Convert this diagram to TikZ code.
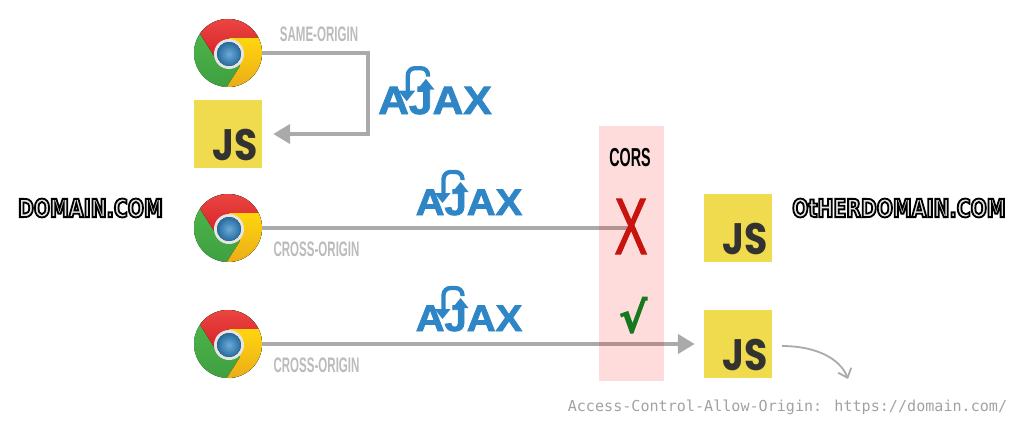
\documentclass[tikz,border=0pt]{standalone}
\usepackage{fontspec}
\usetikzlibrary{arrows.meta}
\newfontfamily\narrowfont[FakeStretch=0.55]{Liberation Sans}
\newfontfamily\thinxfont[FakeStretch=0.62]{Liberation Sans}
\newfontfamily\ajaxfont[FakeStretch=1.08]{Liberation Sans}
\newfontfamily\pixelfont[FakeStretch=0.76]{DejaVu Sans}
\newfontfamily\codefont{DejaVu Sans Mono}
\newfontfamily\jsfont[FakeStretch=0.86]{Poppins}
\newfontfamily\markfont{DejaVu Sans}
\definecolor{lineGrey}{HTML}{AAAAAA}
\definecolor{labelGrey}{HTML}{BBBBBB}
\definecolor{codeGrey}{HTML}{A2A2A2}
\definecolor{jsYellow}{HTML}{F0DB4F}
\definecolor{jsDark}{HTML}{323330}
\definecolor{ajaxBlue}{HTML}{2F86C6}
\definecolor{denyRed}{HTML}{C8140F}
\definecolor{allowGreen}{HTML}{16791F}
\definecolor{pixelFill}{HTML}{E4E4E4}
\definecolor{chromeRedTop}{HTML}{EE4B45}
\definecolor{chromeRed}{HTML}{D8232A}
\definecolor{chromeGreen}{HTML}{4FBA4B}
\definecolor{chromeGreenLow}{HTML}{3E9E40}
\definecolor{chromeYellow}{HTML}{FFD50E}
\definecolor{chromeYellowLow}{HTML}{E9A81A}
\newcommand{\outlinetext}[1]{\special{pdf:code 0 G 2 Tr 1.8 w}#1\special{pdf:code 0 Tr 1 w}}
\newcommand{\heavytext}[2]{\special{pdf:code 2 Tr #1 w}#2\special{pdf:code 0 Tr 1 w}}
\tikzset{
  chromelogo/.style={circle,minimum size=68pt,inner sep=0pt,
    path picture={
      \begin{scope}[shift={(path picture bounding box.center)}]
        \fill[top color=chromeGreen,bottom color=chromeGreenLow] (-40,-40) rectangle (40,40);
        \fill[top color=chromeRedTop,bottom color=chromeRed] (-13.7,3.3) -- (-36.7,-33.3) -- (-36.7,-40) -- (40,-40) -- (40,-15) -- (1,-15) -- cycle;
        \fill[top color=chromeYellow,bottom color=chromeYellowLow] (1,-15) -- (40,-15) -- (40,40) -- (-5,40) -- (12,13.3) -- cycle;
        \fill[white!90!black] (1,1) circle (15);
        \fill[inner color=ajaxBlue!70!white,outer color=ajaxBlue!80!black] (1,1) circle (12);
      \end{scope}}},
  jslogo/.style={rectangle,fill=jsYellow,text=jsDark,inner xsep=4.7pt,inner ysep=0pt,
    text width=58.6pt,text height=60pt,text depth=8pt,align=right,
    font=\jsfont\bfseries\fontsize{44}{44}\selectfont},
  greyline/.style={draw=lineGrey,line width=4.4pt},
  greyarrow/.style={greyline,-{Triangle[length=17pt,width=19pt]}},
  originlabel/.style={inner sep=0pt,text=labelGrey,font=\narrowfont\bfseries\fontsize{21}{21}\selectfont},
  sitelabel/.style={inner sep=0pt,text=pixelFill,font=\pixelfont\bfseries\fontsize{25}{25}\selectfont},
  ajaxline/.style={draw=ajaxBlue,line width=4.3pt},
  ajaxlogo/.pic={
    \node[anchor=base west,inner sep=0pt,text=ajaxBlue,transform shape,font=\ajaxfont\bfseries\fontsize{37}{37}\selectfont] (-word) at (0,0) {\heavytext{0.8}{AJAX}};
    \draw[ajaxline,rounded corners=7pt] (28,-20) -- (28,-43) -- (47,-43) -- (47,-35);
    \fill[ajaxBlue] (27,-12) -- (19,-22) -- (35,-22) -- cycle;
    \draw[ajaxline] (45,-4) -- (45,-25);
    \fill[ajaxBlue] (45,-33) -- (37,-23) -- (53,-23) -- cycle;
  }
}
\begin{document}
\begin{tikzpicture}[x=1pt,y=-1pt]
  \useasboundingbox (0,0) rectangle (1024,425);
  % browsers and scripts
  \node[jslogo] (jssame) at (228,134) {JS};
  \node[jslogo] (jsdenied) at (738,228) {JS};
  \node[jslogo] (jsallow) at (738,344) {JS};
  \coordinate (samecorner) at (368,134);
  \coordinate (deniedend) at (627,228);
  \coordinate (headerstart) at (782,346);
  \coordinate (headerend) at (848,379);
  \node[chromelogo] (chrometop) at (228,53) {};
  \node[chromelogo] (chromemiddle) at (228,228) {};
  \node[chromelogo] (chromebottom) at (228,344) {};
  % requests
  \draw[greyarrow,shorten >=11pt] (chrometop.east) -| (samecorner) -- (jssame.east);
  \draw[greyline] (chromemiddle.east) -- (deniedend);
  \draw[greyarrow,shorten >=9pt] (chromebottom.east) -- (jsallow.west);
  \draw[lineGrey,line width=1.8pt,-{Straight Barb[length=8pt,width=14pt]}] (headerstart) .. controls (815,346) and (840,358) .. (headerend);
  % cors band
  \node[rectangle,fill=red,opacity=0.137,inner sep=0pt,minimum width=65pt,minimum height=255pt] (corsband) at (631.5,253.5) {};
  \node[inner sep=0pt,text=denyRed,font=\thinxfont\fontsize{80}{80}\selectfont] (denied) at (631,226.5) {\heavytext{1}{X}};
  \node[inner sep=0pt,text=allowGreen,font=\markfont\bfseries\fontsize{42}{42}\selectfont] (allowed) at (633,315) {\heavytext{1}{√}};
  \node[inner sep=0pt,font=\narrowfont\bfseries\fontsize{26}{26}\selectfont] (corslabel) at (630,158) {CORS};
  % labels
  \pic[scale=1.065] (ajaxtop) at (378,114) {ajaxlogo};
  \pic (ajaxmiddle) at (415.5,215) {ajaxlogo};
  \pic (ajaxbottom) at (415.5,331) {ajaxlogo};
  \node[originlabel] (sameorigin) at (319,34) {SAME-ORIGIN};
  \node[originlabel] (crossmiddle) at (316.5,249) {CROSS-ORIGIN};
  \node[originlabel] (crossbottom) at (316.5,365) {CROSS-ORIGIN};
  \node[sitelabel] (domainlabel) at (90.5,208) {\outlinetext{DOMAIN.COM}};
  \node[sitelabel] (otherlabel) at (899,208) {\outlinetext{OtHERDOMAIN.COM}};
  \node[inner sep=0pt,text=codeGrey,font=\codefont\fontsize{15.1}{15.1}\selectfont] (headerlabel) at (787.5,407) {Access-Control-Allow-Origin: https://domain.com/};
\end{tikzpicture}
\end{document}
